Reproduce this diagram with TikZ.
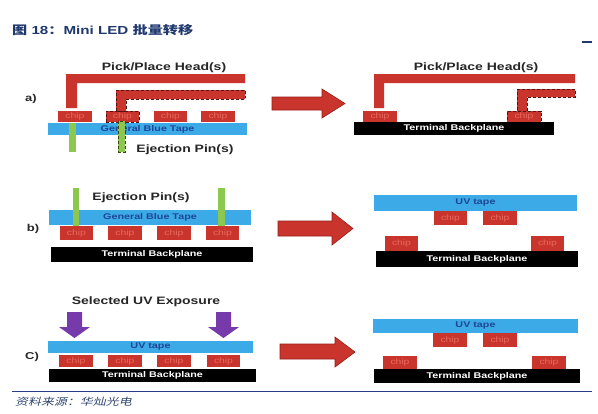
\documentclass[tikz,border=0pt]{standalone}
\usepackage{fontspec}
\setmainfont{Liberation Sans}[FakeStretch=1.3]
\newfontfamily\cjk{Noto Sans CJK SC}[FakeStretch=1.3]
\newfontfamily\cjkit{Noto Sans CJK SC}[FakeStretch=1.3,FakeSlant=0.25]
\definecolor{hred}{RGB}{201,52,44}
\definecolor{chiptxt}{RGB}{232,105,95}
\definecolor{tapeblue}{RGB}{60,170,230}
\definecolor{tapetxt}{RGB}{30,70,150}
\definecolor{pingreen}{RGB}{140,200,80}
\definecolor{uvpurple}{RGB}{118,58,170}
\definecolor{hdrblue}{RGB}{31,56,110}
\definecolor{linblue}{RGB}{40,60,140}
\definecolor{dashbrown}{RGB}{80,20,20}
\definecolor{arrowedge}{RGB}{150,30,25}
\tikzset{
  boxbase/.style={rectangle, inner sep=0pt, outer sep=0pt, anchor=north west},
  chipbox/.style={boxbase, fill=hred, text=chiptxt, font=\fontsize{8}{8}\selectfont},
  chipdash/.style={chipbox, draw=dashbrown, densely dashed, line width=0.8pt},
  tapebox/.style={boxbase, fill=tapeblue, text=tapetxt, font=\bfseries\fontsize{8.3}{8.3}\selectfont},
  planebox/.style={boxbase, fill=black, text=white, font=\bfseries\fontsize{8.3}{8.3}\selectfont},
  pinbox/.style={boxbase, fill=pingreen},
  pindash/.style={pinbox, draw=dashbrown!80!green, densely dashed, line width=0.8pt},
  headfill/.style={fill=hred},
  headdash/.style={fill=hred, draw=dashbrown, densely dashed, line width=0.8pt},
  bigarrow/.style={fill=hred, draw=arrowedge, line width=0.6pt},
  uvarrow/.style={fill=uvpurple},
  biglabel/.style={font=\bfseries\fontsize{10.8}{10.8}\selectfont, text=black!85, inner sep=0pt},
  panellabel/.style={font=\bfseries\fontsize{10}{10}\selectfont, text=black!85, inner sep=0pt},
}
\newcommand\bx[7]{\node[#2, minimum width=#5bp, minimum height=#6bp] (#1) at (#3,#4) {#7};}
\begin{document}
\begin{tikzpicture}[x=1bp,y=-1bp]
\useasboundingbox (0,0) rectangle (598,413);
\fill[white] (0,0) rectangle (598,413);

% header
\node[anchor=west, inner sep=0pt, text=hdrblue, font=\bfseries\fontsize{11.7}{11.7}\selectfont] (title) at (12,30)
  {{\cjk\bfseries 图} 18{\cjk\bfseries ：}Mini LED {\cjk\bfseries 批量转移}};
\draw[hdrblue, line width=1.5pt] (582,42) -- (592,42);

% ---------- panel a, left ----------
\node[biglabel] (pphA) at (164,68) {Pick/Place Head(s)};
\node[panellabel] (la) at (31,99) {a)};
\fill[headfill] (66,74) -- (245,74) -- (245,83) -- (77,83) -- (77,108) -- (66,108) -- cycle;
\bx{tapeA}{tapebox}{48}{123}{199}{12}{General Blue Tape}
\bx{chipA1}{chipbox}{58}{111}{34}{11}{chip}
\bx{chipA2}{chipdash}{106}{111}{33}{11}{chip}
\bx{chipA3}{chipbox}{154}{111}{33}{11}{chip}
\bx{chipA4}{chipbox}{201}{111}{34}{11}{chip}
\draw[headdash] (116,90) -- (245,90) -- (245,99) -- (126,99) -- (126,111) -- (116,111) -- cycle;
\bx{pinA1}{pinbox}{69}{123}{7}{29}{}
\bx{pinA2}{pindash}{118}{121}{7}{31}{}
\node[biglabel] (ejA) at (185,150) {Ejection Pin(s)};

% arrow a
\draw[bigarrow] (272,97) -- (322,97) -- (322,89) -- (345,103.5) -- (322,118) -- (322,110) -- (272,110) -- cycle;

% ---------- panel a, right ----------
\node[biglabel] (pphB) at (476,68) {Pick/Place Head(s)};
\fill[headfill] (374,74) -- (575,74) -- (575,83) -- (384,83) -- (384,108) -- (374,108) -- cycle;
\draw[headdash] (517,89) -- (575,89) -- (575,97) -- (527,97) -- (527,111) -- (517,111) -- cycle;
\bx{chipB1}{chipbox}{363}{111}{34}{11}{chip}
\bx{chipB2}{chipdash}{507}{111}{34}{11}{chip}
\bx{planeA}{planebox}{354}{122}{200}{13}{Terminal Backplane}

% ---------- panel b, left ----------
\node[biglabel] (ejB) at (141,198) {Ejection Pin(s)};
\node[panellabel] (lb) at (33,229) {b)};
\bx{tapeB}{tapebox}{49}{210}{202}{15}{General Blue Tape}
\bx{chipC1}{chipbox}{60}{226}{33}{14}{chip}
\bx{chipC2}{chipbox}{108}{226}{34}{14}{chip}
\bx{chipC3}{chipbox}{157}{226}{34}{14}{chip}
\bx{chipC4}{chipbox}{206}{226}{33}{14}{chip}
\bx{pinB1}{pinbox}{73}{188}{6}{38}{}
\bx{pinB2}{pinbox}{218}{188}{7}{38}{}
\bx{planeB}{planebox}{51}{247}{202}{15}{Terminal Backplane}

% arrow b
\draw[bigarrow] (278,221) -- (332,221) -- (332,212) -- (353,228.5) -- (332,245) -- (332,236) -- (278,236) -- cycle;

% ---------- panel b, right ----------
\bx{uvB}{tapebox}{374}{195}{203}{16}{UV tape}
\bx{chipD1}{chipbox}{434}{211}{33}{14}{chip}
\bx{chipD2}{chipbox}{483}{211}{34}{14}{chip}
\bx{chipD3}{chipbox}{385}{236}{33}{15}{chip}
\bx{chipD4}{chipbox}{531}{236}{33}{15}{chip}
\bx{planeB2}{planebox}{376}{251}{202}{16}{Terminal Backplane}

% ---------- panel c, left ----------
\node[biglabel] (uvexp) at (146,302) {Selected UV Exposure};
\fill[uvarrow] (67,312) -- (82,312) -- (82,327) -- (90,327) -- (74.5,338) -- (59,327) -- (67,327) -- cycle;
\fill[uvarrow] (216,312) -- (231,312) -- (231,327) -- (239,327) -- (223.5,338) -- (208,327) -- (216,327) -- cycle;
\node[panellabel] (lc) at (32,357) {C)};
\bx{uvC}{tapebox}{48}{341}{205}{12}{UV tape}
\bx{chipE1}{chipbox}{59}{355}{34}{12}{chip}
\bx{chipE2}{chipbox}{108}{355}{34}{12}{chip}
\bx{chipE3}{chipbox}{157}{355}{34}{12}{chip}
\bx{chipE4}{chipbox}{207}{355}{33}{12}{chip}
\bx{planeC}{planebox}{49}{369}{207}{13}{Terminal Backplane}

% arrow c
\draw[bigarrow] (280,344) -- (335,344) -- (335,337) -- (355,352) -- (335,367) -- (335,359) -- (280,359) -- cycle;

% ---------- panel c, right ----------
\bx{uvC2}{tapebox}{373}{319}{205}{14}{UV tape}
\bx{chipF1}{chipbox}{433}{333}{34}{14}{chip}
\bx{chipF2}{chipbox}{483}{333}{34}{14}{chip}
\bx{chipF3}{chipbox}{383}{356}{34}{13}{chip}
\bx{chipF4}{chipbox}{532}{356}{34}{13}{chip}
\bx{planeC2}{planebox}{374}{369}{206}{14}{Terminal Backplane}

% footer
\draw[linblue, line width=0.9pt] (12,391) -- (592,391);
\node[anchor=west, inner sep=0pt, text=hdrblue!80!gray, font=\fontsize{10}{10}\selectfont] (src) at (15,402) {\cjkit 资料来源：华灿光电};
\end{tikzpicture}
\end{document}
